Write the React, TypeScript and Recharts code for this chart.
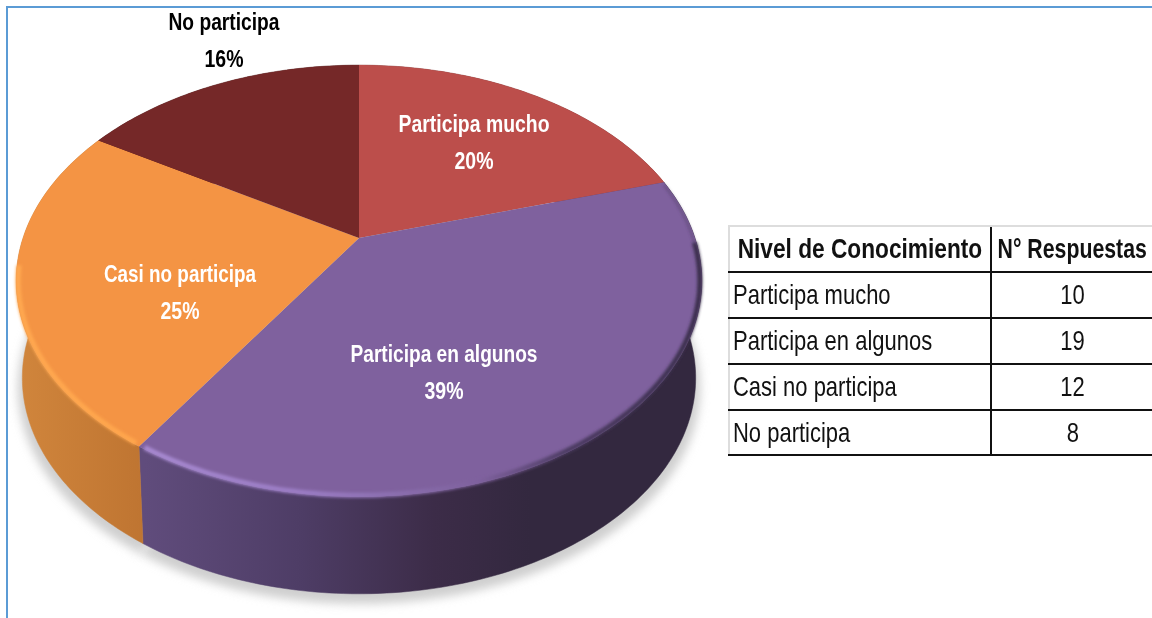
import React from "react";
import { PieChart, Pie } from "recharts";

const categories = ["Participa mucho", "Participa en algunos", "Casi no participa", "No participa"];
const responses = [10, 19, 12, 8];
const percentLabels = ["20%", "39%", "25%", "16%"];
const tableHeaders = ["Nivel de Conocimiento", "N° Respuestas"];

const topColors = ["#BC4E4B", "#7F619E", "#F49444", "#752828"];
const wallStops = [
  [["#8a3634", 0], ["#8a3634", 1]],
  [["#604C7C", 0], ["#4E3D66", 0.4], ["#3C2C48", 0.75], ["#33283F", 1]],
  [["#D0853C", 0], ["#BE7431", 1]],
  [["#551c1c", 0], ["#551c1c", 1]],
];
const rimStops = [
  null,
  [["#A88AD2", 0], ["#9A7CC4", 0.3], ["#8468A6", 0.52], ["#7F619E", 0.6], ["#4C3B62", 0.76], ["#3A2E4C", 1]],
  [["#FFA850", 0], ["#FFA64C", 1]],
  null,
];
const wallX = [[359, 703], [145, 530], [20, 148], [20, 359]];
const rimX = [[359, 703], [145, 700], [17, 148], [20, 359]];
const rimMaxV = [0, -0.02, -0.13, 0];
const labelOffsets = [[115, -113], [85, 117], [-179, 37], [-135, -215]];
const labelColors = ["#fff", "#fff", "#fff", "#000"];
const labelWidths = [151, 187, 152, 111];
const pctWidths = [39, 39, 39, 39];
const headerScales = [0.81, 0.76];

const K = 0.199;
const B = 0.617;
const DEPTH = 97;
const BOTTOM_SCALE = 0.982;

const chartData = categories.map((name, i) => ({ name, value: responses[i] }));

type P = [number, number];
function project(cx: number, cy: number, R: number, deg: number): P {
  const t = (deg * Math.PI) / 180;
  const u = Math.cos(t);
  const v = Math.sin(t);
  const w = 1 + K * v;
  return [cx + (R * u) / w, cy - (R * B * v) / w];
}
function arc(props: any): P[] {
  const { cx, cy, outerRadius, startAngle, endAngle } = props;
  const n = Math.max(2, Math.ceil(Math.abs(endAngle - startAngle)));
  const pts: P[] = [];
  for (let i = 0; i <= n; i++) {
    pts.push(project(cx, cy, outerRadius, startAngle + ((endAngle - startAngle) * i) / n));
  }
  return pts;
}
const toPath = (pts: P[]) => pts.map((p, i) => `${i ? "L" : "M"}${p[0].toFixed(2)} ${p[1].toFixed(2)}`).join(" ");
const lower = (p: P, cx: number, s = BOTTOM_SCALE, d = DEPTH): P => [cx + (p[0] - cx) * s, p[1] + d];

function ShadowShape(props: any) {
  const top = arc(props);
  const pts = [[props.cx, props.cy + DEPTH + 10] as P, ...top.map((p) => lower(p, props.cx, 0.995, DEPTH + 10))];
  return <path d={toPath(pts) + " Z"} fill="#cfcfcf" filter="url(#softShadow)" />;
}

function WallShape(props: any) {
  const i = props.index;
  const top = arc(props);
  const bottom = top.map((p) => lower(p, props.cx)).reverse();
  const id = `wall${i}`;
  return (
    <g>
      <defs>
        <linearGradient id={id} gradientUnits="userSpaceOnUse" x1={wallX[i][0]} x2={wallX[i][1]} y1={0} y2={0}>
          {wallStops[i].map((s: any, k: number) => (
            <stop key={k} offset={s[1]} stopColor={s[0]} />
          ))}
        </linearGradient>
      </defs>
      <path d={toPath([...top, ...bottom]) + " Z"} fill={`url(#${id})`} stroke={`url(#${id})`} strokeWidth={0.5} />
    </g>
  );
}

function TopShape(props: any) {
  const i = props.index;
  const { cx, cy } = props;
  const top = arc(props);
  const id = `rim${i}`;
  const stops = rimStops[i];
  const all = arc({
    ...props,
    outerRadius: props.outerRadius - 2,
    startAngle: props.startAngle - 0.8,
    endAngle: props.endAngle + 0.8,
  });
  const span = props.outerRadius * B;
  const rimPts = all.filter((p) => (cy - p[1]) / span < rimMaxV[i]);
  const upperPts = all.filter((p) => (cy - p[1]) / span >= rimMaxV[i] - 0.02);
  return (
    <g>
      <path d={toPath([[cx, cy], ...top]) + " Z"} fill={topColors[i]} />
      {stops && (
        <>
          <defs>
            <linearGradient id={id} gradientUnits="userSpaceOnUse" x1={rimX[i][0]} x2={rimX[i][1]} y1={0} y2={0}>
              {stops.map((s: any, k: number) => (
                <stop key={k} offset={s[1]} stopColor={s[0]} />
              ))}
            </linearGradient>
          </defs>
          <path d={toPath(rimPts)} fill="none" stroke={`url(#${id})`} strokeWidth={5} filter="url(#softRim)" />
          {i === 1 && (
            <path d={toPath(upperPts)} fill="none" stroke="#4C3B62" strokeOpacity={0.55} strokeWidth={2} filter="url(#softRim)" />
          )}
        </>
      )}
    </g>
  );
}

function SliceLabel(props: any) {
  const i = props.index;
  const x = props.cx + labelOffsets[i][0];
  const y = props.cy + labelOffsets[i][1];
  const font = { fontFamily: "'Liberation Sans', sans-serif", fontWeight: 700, fontSize: 24 };
  return (
    <g style={font}>
      <text x={x} y={y + 7} textAnchor="middle" fill={labelColors[i]} stroke="none" textLength={labelWidths[i]} lengthAdjust="spacingAndGlyphs">
        {categories[i]}
      </text>
      <text x={x} y={y + 44} textAnchor="middle" fill={labelColors[i]} stroke="none" textLength={pctWidths[i]} lengthAdjust="spacingAndGlyphs">
        {percentLabels[i]}
      </text>
    </g>
  );
}

const rowLine = "2px solid #111";

function Squeezed({ text, scale, origin }: { text: any; scale: number; origin: string }) {
  return (
    <span style={{ display: "inline-block", flexShrink: 0, whiteSpace: "nowrap", transform: `scaleX(${scale})`, transformOrigin: origin }}>
      {text}
    </span>
  );
}

export default function App() {
  const common = {
    data: chartData,
    dataKey: "value",
    cx: 359,
    cy: 238,
    outerRadius: 336,
    innerRadius: 0,
    startAngle: 90,
    endAngle: -270,
    isAnimationActive: false,
    labelLine: false,
    stroke: "none",
  };
  const centered: React.CSSProperties = { display: "flex", justifyContent: "center", width: "100%" };
  return (
    <div style={{ position: "absolute", left: 0, top: 0, width: 1152, height: 618, background: "#fff", overflow: "hidden" }}>
      <div
        style={{
          position: "absolute",
          left: 6,
          top: 6,
          width: 1146,
          height: 612,
          borderTop: "2px solid #5B9BD5",
          borderLeft: "2px solid #5B9BD5",
          boxSizing: "border-box",
        }}
      />
      <div style={{ position: "absolute", left: 0, top: 0, filter: "blur(0.4px)" }}>
        <PieChart width={1152} height={618} margin={{ top: 0, right: 0, bottom: 0, left: 0 }}>
          <defs>
            <filter id="softShadow" x="-10%" y="-10%" width="120%" height="130%">
              <feGaussianBlur stdDeviation="5" />
            </filter>
            <filter id="softRim" x="-10%" y="-10%" width="120%" height="120%">
              <feGaussianBlur stdDeviation="1.4" />
            </filter>
          </defs>
          <Pie {...common} shape={ShadowShape} />
          <Pie {...common} shape={WallShape} />
          <Pie {...common} shape={TopShape} label={SliceLabel} />
        </PieChart>
      </div>
      <table
        style={{
          position: "absolute",
          left: 728,
          top: 225,
          width: 424,
          tableLayout: "fixed",
          borderCollapse: "collapse",
          fontFamily: "'Liberation Sans', sans-serif",
          color: "#111",
          fontSize: 28,
          filter: "blur(0.4px)",
        }}
      >
        <colgroup>
          <col style={{ width: 262 }} />
          <col style={{ width: 162 }} />
        </colgroup>
        <thead>
          <tr style={{ height: 46 }}>
            {tableHeaders.map((h, i) => (
              <th
                key={h}
                style={{
                  padding: 0,
                  fontWeight: 700,
                  borderTop: "2px solid #ddd",
                  borderLeft: i === 0 ? "2px solid #ddd" : "2px solid #111",
                  borderBottom: rowLine,
                }}
              >
                <div style={centered}>
                  <Squeezed text={h} scale={headerScales[i]} origin="center" />
                </div>
              </th>
            ))}
          </tr>
        </thead>
        <tbody>
          {categories.map((c, i) => (
            <tr key={c} style={{ height: i === 3 ? 45 : 46 }}>
              <td style={{ padding: "0 0 0 3px", borderLeft: "2px solid #ddd", borderBottom: rowLine }}>
                <Squeezed text={c} scale={0.785} origin="left" />
              </td>
              <td style={{ padding: 0, borderLeft: "2px solid #111", borderBottom: rowLine }}>
                <div style={centered}>
                  <Squeezed text={responses[i]} scale={0.785} origin="center" />
                </div>
              </td>
            </tr>
          ))}
        </tbody>
      </table>
    </div>
  );
}
